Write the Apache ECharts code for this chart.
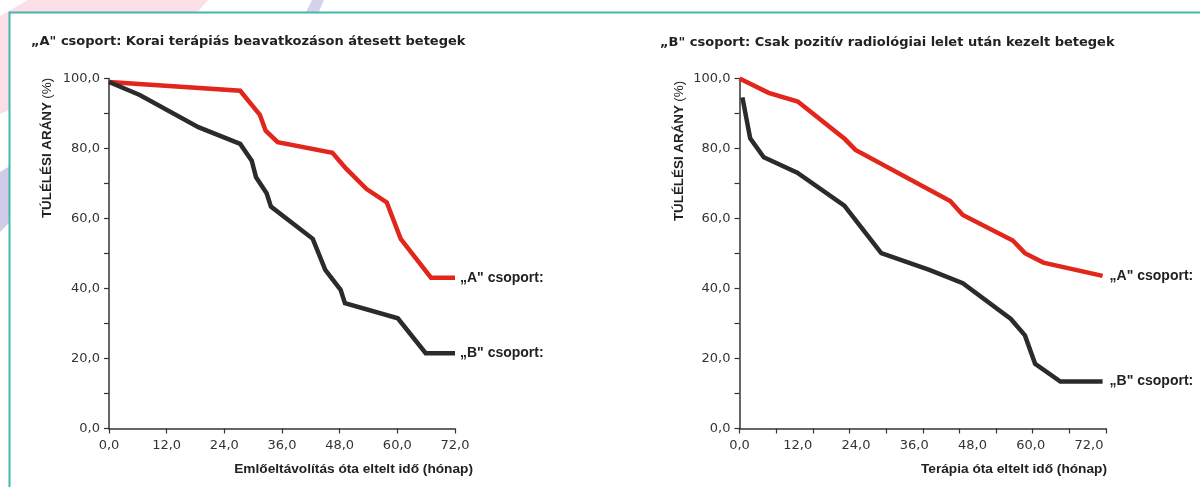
<!DOCTYPE html>
<html>
<head>
<meta charset="utf-8">
<script src="https://cdn.jsdelivr.net/npm/echarts@6/dist/echarts.min.js"></script>
<style>
html,body{margin:0;padding:0;background:#fff;}
#chart{width:1200px;height:487px;}
</style>
</head>
<body>
<div id="chart"></div>
<script>
// ---- data (months, survival %) ----
var leftTitle = '„A" csoport: Korai terápiás beavatkozáson átesett betegek';
var rightTitle = '„B" csoport: Csak pozitív radiológiai lelet után kezelt betegek';
var leftXName = 'Emlőeltávolítás óta eltelt idő (hónap)';
var rightXName = 'Terápia óta eltelt idő (hónap)';
var yName = 'TÚLÉLÉSI ARÁNY';
var yUnit = '(%)';
var seriesNames = ['„A" csoport:', '„B" csoport:'];

var leftGroupA = [[0,99],[27.3,96.5],[31.4,89.6],[32.6,85.1],[35.1,81.8],[46.5,78.8],[49.3,74.3],[53.6,68.4],[57.8,64.6],[60.7,54.2],[67.0,43.1],[72,43.1]];
var leftGroupB = [[0,99],[6.4,95.3],[18.6,86.1],[27.3,81.3],[29.7,76.5],[30.6,71.8],[32.8,67.2],[33.7,63.4],[42.4,54.2],[45.0,45.3],[48.2,39.6],[49.1,35.8],[60.1,31.5],[65.9,21.5],[72,21.5]];

var rightGroupA = [[0,100],[6,95.9],[12,93.4],[21.7,82.7],[23.9,79.6],[43.4,65.0],[46.0,61.0],[56.3,53.7],[58.8,50.1],[62.6,47.4],[74.8,43.6]];
var rightGroupB = [[0.6,94.6],[2.2,82.9],[5.0,77.5],[11.9,73.1],[21.6,63.7],[29.2,50.1],[39.1,45.3],[46.0,41.5],[55.9,31.3],[58.8,26.6],[60.9,18.5],[66.1,13.4],[74.8,13.4]];

var xTickStep = 12;
var yTickStep = 20;
var leftXMax = 72;
var rightXMax = 75.5;

var FONT = '"Liberation Sans", Arial, Helvetica, sans-serif';
var WIDE = '"DejaVu Sans", Verdana, sans-serif';
var RED = '#e2261c';
var BLACK = '#2b2b2b';
var AXIS = '#333';

function fmt(v){ return v.toFixed(1).replace('.', ','); }

function yAxisCfg(gi){
  return {
    type:'value', gridIndex:gi, min:0, max:100, interval:10,
    axisLine:{show:true, lineStyle:{color:AXIS, width:1.5}},
    axisTick:{show:true, length:5, lineStyle:{color:AXIS, width:1.2}},
    splitLine:{show:false},
    axisLabel:{margin:9, color:'#333', fontSize:13, fontFamily:WIDE,
      formatter:function(v){ return (Math.round(v) % yTickStep === 0) ? fmt(v) : ''; }}
  };
}

function lineSeries(name, data, xi, yi, color, dist){
  return {
    type:'line', name:name, data:data, xAxisIndex:xi, yAxisIndex:yi,
    symbol:'none', smooth:false,
    lineStyle:{color:color, width:4.5, join:'miter'},
    itemStyle:{color:color},
    endLabel:{show:true, formatter:name, distance:dist, color:'#222',
      fontSize:14, fontWeight:'bold', fontFamily:FONT},
    silent:true, animation:false
  };
}

var chart = echarts.init(document.getElementById('chart'));
chart.setOption({
  animation:false,
  backgroundColor:'#fff',
  title:[
    {text:leftTitle, left:31, top:35, padding:0,
     textStyle:{fontSize:13, fontWeight:'bold', color:'#222', fontFamily:WIDE}},
    {text:rightTitle, left:660, top:36, padding:0,
     textStyle:{fontSize:13, fontWeight:'bold', color:'#222', fontFamily:WIDE}}
  ],
  grid:[
    {left:109, top:78.5, width:346, height:350, outerBoundsMode:'none', containLabel:false},
    {left:739.5, top:78.5, width:366.5, height:350, outerBoundsMode:'none', containLabel:false}
  ],
  xAxis:[
    {type:'value', gridIndex:0, position:'bottom', min:0, max:leftXMax, interval:xTickStep,
     axisLine:{show:true, lineStyle:{color:AXIS, width:1.5}},
     axisTick:{show:true, length:5, lineStyle:{color:AXIS, width:1.2}},
     splitLine:{show:false},
     axisLabel:{margin:11, color:'#333', fontSize:13, fontFamily:WIDE, formatter:fmt}},
    {type:'value', gridIndex:1, position:'bottom', min:0, max:rightXMax, interval:xTickStep,
     axisLine:{show:false},
     axisTick:{show:false},
     splitLine:{show:false},
     axisLabel:{margin:11, color:'#333', fontSize:13, fontFamily:WIDE,
       formatter:function(v){ return (Math.abs(v % xTickStep) < 1e-6) ? fmt(v) : ''; }}},
    {type:'value', gridIndex:1, position:'bottom', min:0, max:10, interval:1,
     axisLine:{show:true, lineStyle:{color:AXIS, width:1.5}},
     axisTick:{show:true, length:5, lineStyle:{color:AXIS, width:1.2}},
     splitLine:{show:false},
     axisLabel:{show:false}}
  ],
  yAxis:[yAxisCfg(0), yAxisCfg(1)],
  series:[
    lineSeries(seriesNames[0], leftGroupA, 0, 0, RED, 5),
    lineSeries(seriesNames[1], leftGroupB, 0, 0, BLACK, 5),
    lineSeries(seriesNames[0], rightGroupA, 1, 1, RED, 7),
    lineSeries(seriesNames[1], rightGroupB, 1, 1, BLACK, 7)
  ],
  graphic:[
    {type:'polygon', z:-30, silent:true,
     shape:{points:[[28,0],[208,0],[196,14],[9,110],[0,114],[0,16]]},
     style:{fill:'#fcdfe6'}},
    {type:'polygon', z:-30, silent:true,
     shape:{points:[[0,172],[10,166],[10,222],[0,232]]},
     style:{fill:'#d0cbe9'}},
    {type:'polygon', z:-30, silent:true,
     shape:{points:[[312,0],[324,0],[318,14],[305,14]]},
     style:{fill:'#d6d2ee'}},
    {type:'rect', z:-20, silent:true,
     shape:{x:9.5, y:12.5, width:1260, height:520},
     style:{fill:'#fff', stroke:'#45b5ad', lineWidth:2}},
    {type:'text', z:10, silent:true, x:473, y:469,
     style:{text:leftXName, align:'right', verticalAlign:'middle',
       font:'bold 13.7px ' + FONT, fill:'#222'}},
    {type:'text', z:10, silent:true, x:1107, y:469,
     style:{text:rightXName, align:'right', verticalAlign:'middle',
       font:'bold 13.7px ' + FONT, fill:'#222'}},
    {type:'text', z:10, silent:true, x:47, y:148, rotation:Math.PI/2,
     style:{text:'{b|' + yName + '} {n|' + yUnit + '}', align:'center', verticalAlign:'middle',
       fill:'#222',
       rich:{b:{font:'bold 13.4px ' + FONT, fill:'#222'}, n:{font:'13.4px ' + FONT, fill:'#222'}}}},
    {type:'text', z:10, silent:true, x:679, y:151, rotation:Math.PI/2,
     style:{text:'{b|' + yName + '} {n|' + yUnit + '}', align:'center', verticalAlign:'middle',
       fill:'#222',
       rich:{b:{font:'bold 13.4px ' + FONT, fill:'#222'}, n:{font:'13.4px ' + FONT, fill:'#222'}}}}
  ]
});
</script>
</body>
</html>
